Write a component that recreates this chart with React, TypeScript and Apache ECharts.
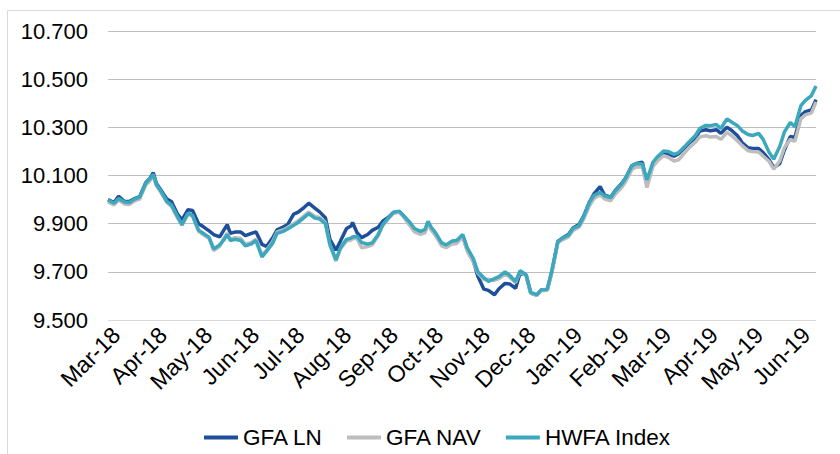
import React, { useEffect, useRef } from "react";
import * as echarts from "echarts";

// Observation dates (sampling of the reference)
const dates: string[] = [
  "2018-03-01","2018-03-05","2018-03-08","2018-03-12","2018-03-15","2018-03-19","2018-03-22","2018-03-26","2018-03-29","2018-03-31",
  "2018-04-02","2018-04-05","2018-04-09","2018-04-12","2018-04-16","2018-04-19","2018-04-23","2018-04-26","2018-04-30",
  "2018-05-03","2018-05-07","2018-05-10","2018-05-14","2018-05-17","2018-05-19","2018-05-21","2018-05-24","2018-05-28","2018-05-31",
  "2018-06-04","2018-06-07","2018-06-11","2018-06-14","2018-06-18","2018-06-21","2018-06-25","2018-06-28",
  "2018-07-02","2018-07-05","2018-07-09","2018-07-12","2018-07-16","2018-07-19","2018-07-23","2018-07-26","2018-07-30",
  "2018-08-02","2018-08-06","2018-08-09","2018-08-10","2018-08-13","2018-08-16","2018-08-20","2018-08-23","2018-08-27","2018-08-30",
  "2018-09-03","2018-09-06","2018-09-10","2018-09-13","2018-09-17","2018-09-20","2018-09-24","2018-09-27","2018-09-29",
  "2018-10-01","2018-10-04","2018-10-08","2018-10-11","2018-10-15","2018-10-18","2018-10-22","2018-10-25","2018-10-29",
  "2018-11-01","2018-11-05","2018-11-08","2018-11-12","2018-11-15","2018-11-19","2018-11-22","2018-11-26","2018-11-29",
  "2018-12-03","2018-12-06","2018-12-10","2018-12-13","2018-12-17","2018-12-20","2018-12-24","2018-12-27","2018-12-31",
  "2019-01-03","2019-01-07","2019-01-10","2019-01-14","2019-01-17","2019-01-21","2019-01-24","2019-01-28","2019-01-31",
  "2019-02-04","2019-02-07","2019-02-11","2019-02-14","2019-02-18","2019-02-21","2019-02-25","2019-02-28",
  "2019-03-04","2019-03-07","2019-03-11","2019-03-14","2019-03-18","2019-03-21","2019-03-25","2019-03-28",
  "2019-04-01","2019-04-04","2019-04-08","2019-04-11","2019-04-15","2019-04-18","2019-04-22","2019-04-25","2019-04-29",
  "2019-05-02","2019-05-06","2019-05-09","2019-05-13","2019-05-16","2019-05-20","2019-05-23","2019-05-27","2019-05-30",
  "2019-06-03","2019-06-06","2019-06-10","2019-06-13",
];

const gfaLn: number[] = [
  10.000,9.988,10.014,9.992,9.992,10.005,10.012,10.070,10.090,10.112,
  10.068,10.040,10.002,9.992,9.940,9.916,9.958,9.955,9.900,
  9.888,9.870,9.855,9.845,9.876,9.896,9.860,9.865,9.865,9.850,
  9.860,9.866,9.814,9.805,9.840,9.874,9.886,9.896,
  9.940,9.948,9.968,9.985,9.965,9.950,9.925,9.835,9.790,
  9.828,9.880,9.890,9.905,9.862,9.842,9.855,9.872,9.885,9.910,
  9.928,9.946,9.950,9.930,9.898,9.872,9.862,9.868,9.906,
  9.880,9.855,9.815,9.805,9.822,9.822,9.850,9.790,9.745,
  9.682,9.628,9.623,9.605,9.630,9.652,9.650,9.632,9.695,
  9.686,9.612,9.603,9.625,9.626,9.700,9.826,9.840,9.855,
  9.882,9.896,9.930,9.990,10.025,10.054,10.018,10.010,10.038,
  10.065,10.090,10.140,10.150,10.155,10.061,10.150,10.175,
  10.195,10.190,10.180,10.190,10.215,10.235,10.255,10.285,
  10.290,10.286,10.290,10.275,10.300,10.288,10.265,10.237,10.215,
  10.212,10.212,10.195,10.165,10.133,10.150,10.205,10.262,10.258,
  10.350,10.365,10.372,10.415,
];

const gfaNav: number[] = [
  9.990,9.978,9.998,9.982,9.980,9.996,10.002,10.060,10.080,10.098,
  10.058,10.030,9.988,9.972,9.925,9.893,9.940,9.930,9.868,
  9.855,9.838,9.788,9.806,9.842,9.860,9.836,9.842,9.838,9.815,
  9.822,9.836,9.770,9.790,9.825,9.866,9.874,9.884,
  9.900,9.912,9.933,9.948,9.930,9.926,9.905,9.810,9.745,
  9.795,9.828,9.832,9.838,9.838,9.800,9.805,9.812,9.850,9.892,
  9.922,9.942,9.948,9.926,9.892,9.866,9.856,9.862,9.900,
  9.874,9.850,9.808,9.800,9.816,9.818,9.845,9.785,9.740,
  9.695,9.668,9.668,9.665,9.672,9.692,9.678,9.655,9.700,
  9.684,9.612,9.602,9.622,9.624,9.696,9.820,9.833,9.845,
  9.872,9.885,9.918,9.975,10.005,10.020,10.002,9.995,10.022,
  10.048,10.075,10.125,10.136,10.135,10.050,10.138,10.160,
  10.182,10.176,10.160,10.165,10.195,10.215,10.238,10.260,
  10.265,10.260,10.262,10.250,10.279,10.266,10.244,10.224,10.203,
  10.200,10.198,10.180,10.158,10.126,10.160,10.215,10.250,10.242,
  10.335,10.352,10.360,10.405,
];

const hwfaIndex: number[] = [
  9.998,9.985,10.005,9.990,9.988,10.003,10.010,10.068,10.088,10.105,
  10.064,10.036,9.992,9.978,9.930,9.896,9.944,9.935,9.873,
  9.860,9.843,9.795,9.812,9.835,9.855,9.830,9.835,9.830,9.808,
  9.816,9.830,9.762,9.785,9.818,9.860,9.868,9.878,
  9.893,9.905,9.926,9.942,9.923,9.920,9.900,9.815,9.750,
  9.800,9.835,9.840,9.845,9.848,9.822,9.815,9.820,9.855,9.896,
  9.926,9.947,9.952,9.932,9.905,9.880,9.868,9.876,9.910,
  9.886,9.862,9.820,9.812,9.828,9.830,9.855,9.800,9.755,
  9.700,9.675,9.660,9.672,9.680,9.700,9.686,9.660,9.705,
  9.688,9.615,9.605,9.625,9.628,9.705,9.826,9.840,9.852,
  9.880,9.892,9.928,9.990,10.018,10.030,10.015,10.008,10.036,
  10.062,10.090,10.140,10.150,10.148,10.082,10.155,10.178,
  10.202,10.200,10.188,10.195,10.220,10.240,10.265,10.295,
  10.308,10.307,10.312,10.295,10.335,10.322,10.307,10.286,10.270,
  10.266,10.275,10.250,10.195,10.168,10.220,10.280,10.320,10.302,
  10.390,10.412,10.432,10.472,
];

const seriesNames: string[] = ["GFA LN", "GFA NAV", "HWFA Index"];
const monthTicks: string[] = [
  "2018-03-01","2018-04-01","2018-05-01","2018-06-01","2018-07-01","2018-08-01",
  "2018-09-01","2018-10-01","2018-11-01","2018-12-01","2019-01-01","2019-02-01",
  "2019-03-01","2019-04-01","2019-05-01","2019-06-01",
];
const monthNames: string[] = ["Jan","Feb","Mar","Apr","May","Jun","Jul","Aug","Sep","Oct","Nov","Dec"];
const xStart = "2018-03-01";
const xEnd = "2019-06-13";
const yMin = 9.5;
const yMax = 10.7;
const yStep = 0.2;

const toTime = (s: string) => {
  const [y, m, d] = s.split("-").map(Number);
  return Date.UTC(y, m - 1, d);
};

const fmtMonth = (v: number) => {
  const d = new Date(v);
  return `${monthNames[d.getUTCMonth()]}-${String(d.getUTCFullYear() % 100).padStart(2, "0")}`;
};

export default function App() {
  const ref = useRef<HTMLDivElement>(null);

  useEffect(() => {
    if (!ref.current) return;
    const chart = echarts.init(ref.current, null, { renderer: "svg" });
    const font = "'Liberation Sans', Arial, sans-serif";
    const colors = ["#1F4E9B", "#BDBDBD", "#3BA8BD"];
    const valueSets = [gfaLn, gfaNav, hwfaIndex];

    chart.setOption({
      animation: false,
      backgroundColor: "#ffffff",
      textStyle: { fontFamily: font },
      graphic: [
        {
          type: "rect",
          shape: { x: 7.5, y: 10.5, width: 900, height: 600 },
          style: { fill: "none", stroke: "#D9D9D9", lineWidth: 1 },
          silent: true,
        },
      ],
      grid: { left: 108, right: 24, top: 31, bottom: 134, outerBoundsMode: "none" },
      legend: {
        data: seriesNames,
        left: 199,
        top: 421,
        icon: "rect",
        itemWidth: 34,
        itemHeight: 4,
        itemGap: 24,
        textStyle: { fontSize: 22.5, color: "#000", fontFamily: font },
      },
      xAxis: {
        type: "value",
        min: toTime(xStart),
        max: toTime(xEnd),
        axisLine: { show: false },
        axisTick: { show: false },
        splitLine: { show: false },
        axisLabel: {
          customValues: monthTicks.map(toTime),
          formatter: (v: number) => fmtMonth(v),
          rotate: 45,
          fontSize: 23,
          color: "#000",
          fontFamily: font,
          margin: 3,
          verticalAlign: "top",
          hideOverlap: false,
          showMinLabel: true,
          showMaxLabel: true,
        },
      },
      yAxis: {
        type: "value",
        min: yMin,
        max: yMax,
        interval: yStep,
        axisLine: { show: false },
        axisTick: { show: false },
        axisLabel: {
          formatter: (v: number) => v.toFixed(3),
          fontSize: 22,
          color: "#000",
          fontFamily: font,
          margin: 20,
        },
        splitLine: {
          lineStyle: {
            color: ["#D9D9D9", "#BFBFBF", "#BFBFBF", "#BFBFBF", "#BFBFBF", "#BFBFBF", "#BFBFBF"],
            width: 1,
          },
        },
      },
      series: seriesNames.map((name, k) => ({
        name,
        type: "line",
        showSymbol: false,
        symbol: "none",
        color: colors[k],
        lineStyle: { color: colors[k], width: 3.5 },
        data: dates.map((d, i) => [toTime(d), valueSets[k][i]]),
        z: 2 + k,
      })),
    });

    return () => chart.dispose();
  }, []);

  return (
    <div
      ref={ref}
      style={{ position: "absolute", left: 0, top: 0, width: 840, height: 454 }}
    />
  );
}
